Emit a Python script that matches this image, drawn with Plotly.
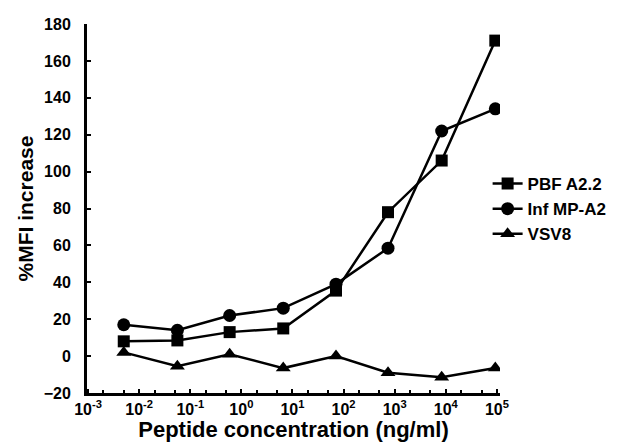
import plotly.graph_objects as go

# Peptide concentration (ng/ml)
conc = [0.005, 0.056, 0.59, 6.6, 71, 740, 8300, 93000]
pbf_a22 = [8, 8.5, 13, 15, 35.5, 78, 106, 171]
inf_mp_a2 = [17, 14, 22, 26, 39, 58.5, 122, 134]
vsv8 = [2, -5.5, 1, -6.5, 0, -9, -11.5, -6.5]

series_names = ["PBF A2.2", "Inf MP-A2", "VSV8"]
x_tick_vals = [1e-3, 1e-2, 1e-1, 1e0, 1e1, 1e2, 1e3, 1e4, 1e5]
x_tick_text = ["10<sup>-3</sup>", "10<sup>-2</sup>", "10<sup>-1</sup>", "10<sup>0</sup>",
               "10<sup>1</sup>", "10<sup>2</sup>", "10<sup>3</sup>", "10<sup>4</sup>", "10<sup>5</sup>"]
y_tick_vals = [-20, 0, 20, 40, 60, 80, 100, 120, 140, 160, 180]

FONT = "Liberation Sans, Arial, sans-serif"
BLK = "#000000"

fig = go.Figure()
for name, vals, sym, sz in [(series_names[0], pbf_a22, "square", 12),
                            (series_names[1], inf_mp_a2, "circle", 13),
                            (series_names[2], vsv8, "triangle-up", 13)]:
    fig.add_trace(go.Scatter(
        x=conc, y=vals, name=name, mode="lines+markers",
        line=dict(color=BLK, width=2.5),
        marker=dict(symbol=sym, size=sz, color=BLK),
    ))

fig.update_layout(
    width=617, height=442,
    margin=dict(l=87, r=117, t=24, b=49, autoexpand=False),
    paper_bgcolor="white", plot_bgcolor="white",
    font=dict(family=FONT, color=BLK, size=16),
    showlegend=True,
    legend=dict(x=0.97, y=0.615, xanchor="left", yanchor="top",
                font=dict(family=FONT, size=17, color=BLK, weight="bold"),
                bgcolor="rgba(0,0,0,0)", tracegroupgap=0, itemwidth=30),
)
fig.update_xaxes(
    type="log", range=[-3.02, 5.06], automargin=False,
    tickvals=x_tick_vals, ticktext=x_tick_text,
    tickfont=dict(family=FONT, size=16, color=BLK, weight="bold"),
    ticks="inside", ticklen=4, tickwidth=2, tickcolor=BLK,
    minor=dict(ticks="inside", ticklen=3, tickwidth=1.5, tickcolor=BLK),
    showline=True, linewidth=3, linecolor=BLK,
    showgrid=False, zeroline=False,
    title=dict(text="Peptide concentration (ng/ml)", standoff=6,
               font=dict(family=FONT, size=22, color=BLK, weight="bold")),
)
fig.update_yaxes(
    range=[-20, 180], tickvals=y_tick_vals, automargin=False,
    tickfont=dict(family=FONT, size=16, color=BLK, weight="bold"),
    ticks="inside", ticklen=4, tickwidth=2, tickcolor=BLK,
    ticklabelstandoff=10,
    showline=True, linewidth=3, linecolor=BLK,
    showgrid=False, zeroline=False,
    title=dict(text="%MFI increase", standoff=5,
               font=dict(family=FONT, size=21, color=BLK, weight="bold")),
)

fig.write_html("out.html",
               config={"displayModeBar": False},
               post_script="document.body.style.margin='0';document.body.style.overflow='hidden';")
